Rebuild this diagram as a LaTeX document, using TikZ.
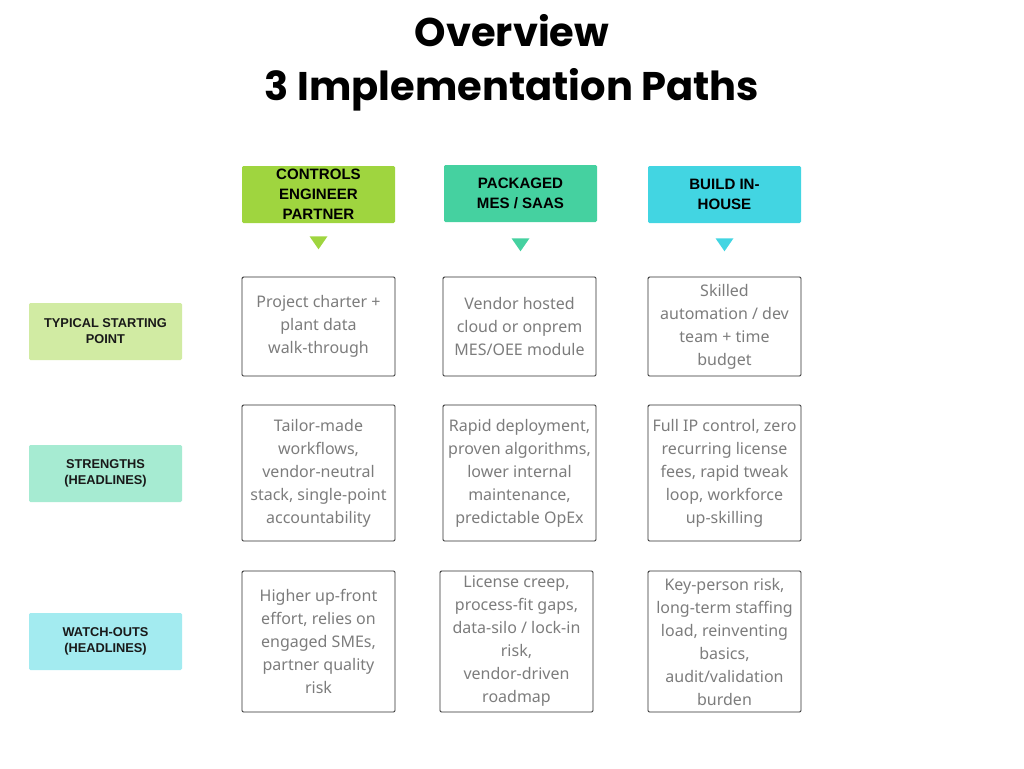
\documentclass[tikz,border=0pt]{standalone}
\usepackage{fontspec}
\setmainfont{Noto Sans}
\newfontfamily\titlefont{Poppins}
\newfontfamily\bodyfont{Noto Sans}
\newfontfamily\hdrfont{Liberation Sans}
\usetikzlibrary{calc}
\definecolor{hA}{HTML}{9FD53F}
\definecolor{hB}{HTML}{45D1A0}
\definecolor{hC}{HTML}{42D5E2}
\definecolor{rA}{HTML}{D1EBA3}
\definecolor{rB}{HTML}{A6EBD2}
\definecolor{rC}{HTML}{A3EBF0}
\definecolor{bodygray}{HTML}{7C7C7C}
\definecolor{edge}{HTML}{2E2E2E}
\tikzset{
  hdr/.style={minimum width=114.75pt, minimum height=42.75pt, inner sep=0pt, align=center, rounded corners=1pt,
    font=\hdrfont\bfseries\fontsize{11.3}{15}\selectfont, text=black},
  rowlab/.style={minimum width=114.75pt, minimum height=42.75pt, inner sep=0pt, align=center, rounded corners=1pt,
    font=\hdrfont\bfseries\fontsize{9.6}{12}\selectfont, text=black!90},
  cell/.style={draw=edge, line width=0.7pt, minimum width=114.75pt, inner sep=0pt, align=center, rounded corners=1pt,
    font=\bodyfont\fontsize{12}{17.25}\selectfont, text=bodygray}
}
\begin{document}
\begin{tikzpicture}[x=0.75pt,y=-0.75pt]
\useasboundingbox (0,0) rectangle (1024,768);
\node[font=\titlefont\bfseries\fontsize{30}{40.5}\selectfont, align=center] (title) at (512,63) {Overview\\3 Implementation Paths};

\node[hdr, fill=hA] (h1) at (318.5,194.5) {CONTROLS\\ENGINEER\\PARTNER};
\node[hdr, fill=hB] (h2) at (520.5,193.5) {PACKAGED\\MES / SAAS};
\node[hdr, fill=hC] (h3) at (724.5,194.5) {BUILD IN-\\HOUSE};

\fill[hA] ($(h1.south)+(-9,13)$) -- ++(18,0) -- ++(-9,13) -- cycle;
\fill[hB] ($(h2.south)+(-9,16)$) -- ++(18,0) -- ++(-9,13) -- cycle;
\fill[hC] ($(h3.south)+(-9,15)$) -- ++(18,0) -- ++(-9,13) -- cycle;

\node[rowlab, fill=rA] (r1) at (105.5,331.5) {TYPICAL STARTING\\POINT};
\node[rowlab, fill=rB] (r2) at (105.5,473.5) {STRENGTHS\\(HEADLINES)};
\node[rowlab, fill=rC] (r3) at (105.5,641.5) {WATCH-OUTS\\(HEADLINES)};

\node[cell, minimum height=74.25pt] (a1) at (318.5,326.5) {Project charter +\\plant data\\walk-through};
\node[cell, minimum height=74.25pt] (a2) at (519.5,326.5) {Vendor hosted\\cloud or onprem\\MES/OEE module};
\node[cell, minimum height=74.25pt] (a3) at (724.5,326.5) {Skilled\\automation / dev\\team + time\\budget};

\node[cell, minimum height=102pt] (b1) at (318.5,473) {Tailor-made\\workflows,\\vendor-neutral\\stack, single-point\\accountability};
\node[cell, minimum height=102pt] (b2) at (519.5,473) {Rapid deployment,\\proven algorithms,\\lower internal\\maintenance,\\predictable OpEx};
\node[cell, minimum height=102pt] (b3) at (724.5,473) {Full IP control, zero\\recurring license\\fees, rapid tweak\\loop, workforce\\up-skilling};

\node[cell, minimum height=105.75pt] (c1) at (318.5,641.5) {Higher up-front\\effort, relies on\\engaged SMEs,\\partner quality\\risk};
\node[cell, minimum height=105.75pt] (c2) at (516.5,641.5) {License creep,\\process-fit gaps,\\data-silo / lock-in\\risk,\\vendor-driven\\roadmap};
\node[cell, minimum height=105.75pt] (c3) at (724.5,641.5) {Key-person risk,\\long-term staffing\\load, reinventing\\basics,\\audit/validation\\burden};
\end{tikzpicture}
\end{document}
